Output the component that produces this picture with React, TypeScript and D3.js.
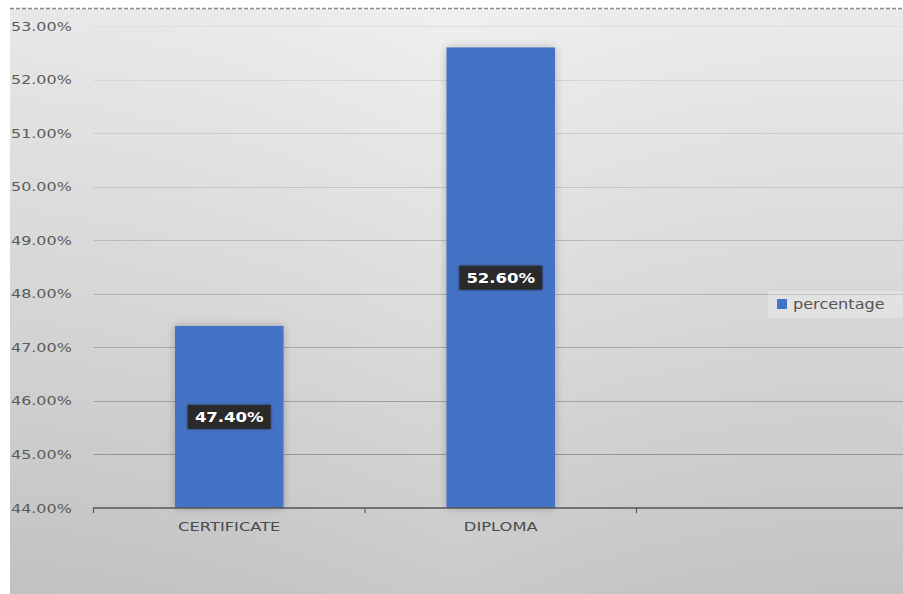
import React from "react";
import * as d3 from "d3";

const categories = ["CERTIFICATE", "DIPLOMA", ""];
const percentageValues = [0.474, 0.526, null];
const yTicks = [0.44, 0.45, 0.46, 0.47, 0.48, 0.49, 0.5, 0.51, 0.52, 0.53];
const seriesName = "percentage";

const W = 903;
const H = 594;

export default function App() {
  const x = d3
    .scaleBand<string>()
    .domain(categories)
    .range([93.5, 908])
    .paddingInner(0.6)
    .paddingOuter(0.3);
  const y = d3.scaleLinear().domain([0.44, 0.53]).range([508, 26]);
  const fmt = d3.format(".2%");
  const step = x.step();
  const tickXs = d3.range(categories.length + 1).map((i) => 93.5 + i * step);
  const gridColor = d3.scaleLinear<string>().domain([26, 508]).range(["#dedede", "#8e8e8e"]);

  return (
    <svg
      width={W}
      height={H}
      style={{ position: "absolute", left: 0, top: 0, display: "block" }}
      fontFamily="'DejaVu Sans', sans-serif"
    >
      <defs>
        <linearGradient id="bg" x1="0" y1="0" x2="0" y2="1">
          <stop offset="0" stopColor="#efefef" />
          <stop offset="0.5" stopColor="#dcdcdc" />
          <stop offset="1" stopColor="#c7c7c7" />
        </linearGradient>
        <linearGradient id="bgH" x1="0" y1="0" x2="1" y2="0">
          <stop offset="0" stopColor="#000" stopOpacity="0.03" />
          <stop offset="0.5" stopColor="#fff" stopOpacity="0.05" />
          <stop offset="1" stopColor="#000" stopOpacity="0.02" />
        </linearGradient>
        <filter id="barShadow" x="-20%" y="-10%" width="140%" height="120%">
          <feGaussianBlur in="SourceAlpha" stdDeviation="4" />
          <feOffset dx="0" dy="0" result="b" />
          <feComponentTransfer>
            <feFuncA type="linear" slope="0.25" />
          </feComponentTransfer>
          <feMerge>
            <feMergeNode />
            <feMergeNode in="SourceGraphic" />
          </feMerge>
        </filter>
        <filter id="lblShadow" x="-20%" y="-30%" width="140%" height="160%">
          <feGaussianBlur in="SourceAlpha" stdDeviation="1.5" />
          <feComponentTransfer>
            <feFuncA type="linear" slope="0.5" />
          </feComponentTransfer>
          <feMerge>
            <feMergeNode />
            <feMergeNode in="SourceGraphic" />
          </feMerge>
        </filter>
      </defs>
      <rect x={0} y={0} width={W} height={H} fill="#ffffff" />
      <rect x={10} y={9} width={W - 10} height={H - 9} fill="url(#bg)" />
      <rect x={10} y={9} width={W - 10} height={H - 9} fill="url(#bgH)" />
      <line x1={10} x2={W} y1={8.5} y2={8.5} stroke="#8a8a8a" strokeWidth={1.5} strokeDasharray="4,2" />

      {/* gridlines */}
      {yTicks.slice(1).map((t) => (
        <line
          key={t}
          x1={93.5}
          x2={W}
          y1={Math.round(y(t)) + 0.5}
          y2={Math.round(y(t)) + 0.5}
          stroke={gridColor(y(t))}
          strokeWidth={1}
        />
      ))}

      {/* y labels */}
      {yTicks.map((t) => (
        <text
          key={t}
          transform={`translate(11,${y(t) + 4.5}) scale(1.33,1)`}
          fontSize={12}
          fill="#5a5a5a"
        >
          {fmt(t)}
        </text>
      ))}

      {/* bars */}
      {categories.map((c, i) => {
        const v = percentageValues[i];
        if (v == null) return null;
        return (
          <rect
            key={c}
            x={x(c)!}
            y={y(v)}
            width={x.bandwidth()}
            height={y(0.44) - y(v)}
            fill="#4472c4"
            filter="url(#barShadow)"
          />
        );
      })}

      {/* axis */}
      <line x1={93} x2={W} y1={508} y2={508} stroke="#555" strokeWidth={1.5} />
      {tickXs.map((tx, i) => (
        <line key={i} x1={tx} x2={tx} y1={508} y2={513} stroke="#555" strokeWidth={1.2} />
      ))}
      {categories.map((c) =>
        c ? (
          <text
            key={c}
            transform={`translate(${x(c)! + x.bandwidth() / 2},${531}) scale(1.36,1)`}
            fontSize={12}
            textAnchor="middle"
            fill="#4a4a4a"
          >
            {c}
          </text>
        ) : null
      )}

      {/* data labels */}
      {categories.map((c, i) => {
        const v = percentageValues[i];
        if (v == null) return null;
        const cx = x(c)! + x.bandwidth() / 2;
        const cy = (y(v) + y(0.44)) / 2;
        return (
          <g key={"l" + c}>
            <rect
              x={cx - 41.5}
              y={cy - 12}
              width={83}
              height={24}
              fill="#2b2b2b"
              filter="url(#lblShadow)"
            />
            <text
              transform={`translate(${cx},${cy + 5}) scale(1.18,1)`}
              fontSize={14}
              fontWeight="bold"
              textAnchor="middle"
              fill="#ffffff"
            >
              {fmt(v)}
            </text>
          </g>
        );
      })}

      {/* legend */}
      <rect x={768} y={291} width={135} height={27} fill="#ffffff" opacity={0.25} />
      <rect x={777} y={299} width={10} height={10} fill="#4472c4" />
      <text
        transform={`translate(793,309) scale(1.15,1)`}
        fontSize={14}
        fill="#555555"
      >
        {seriesName}
      </text>
    </svg>
  );
}
